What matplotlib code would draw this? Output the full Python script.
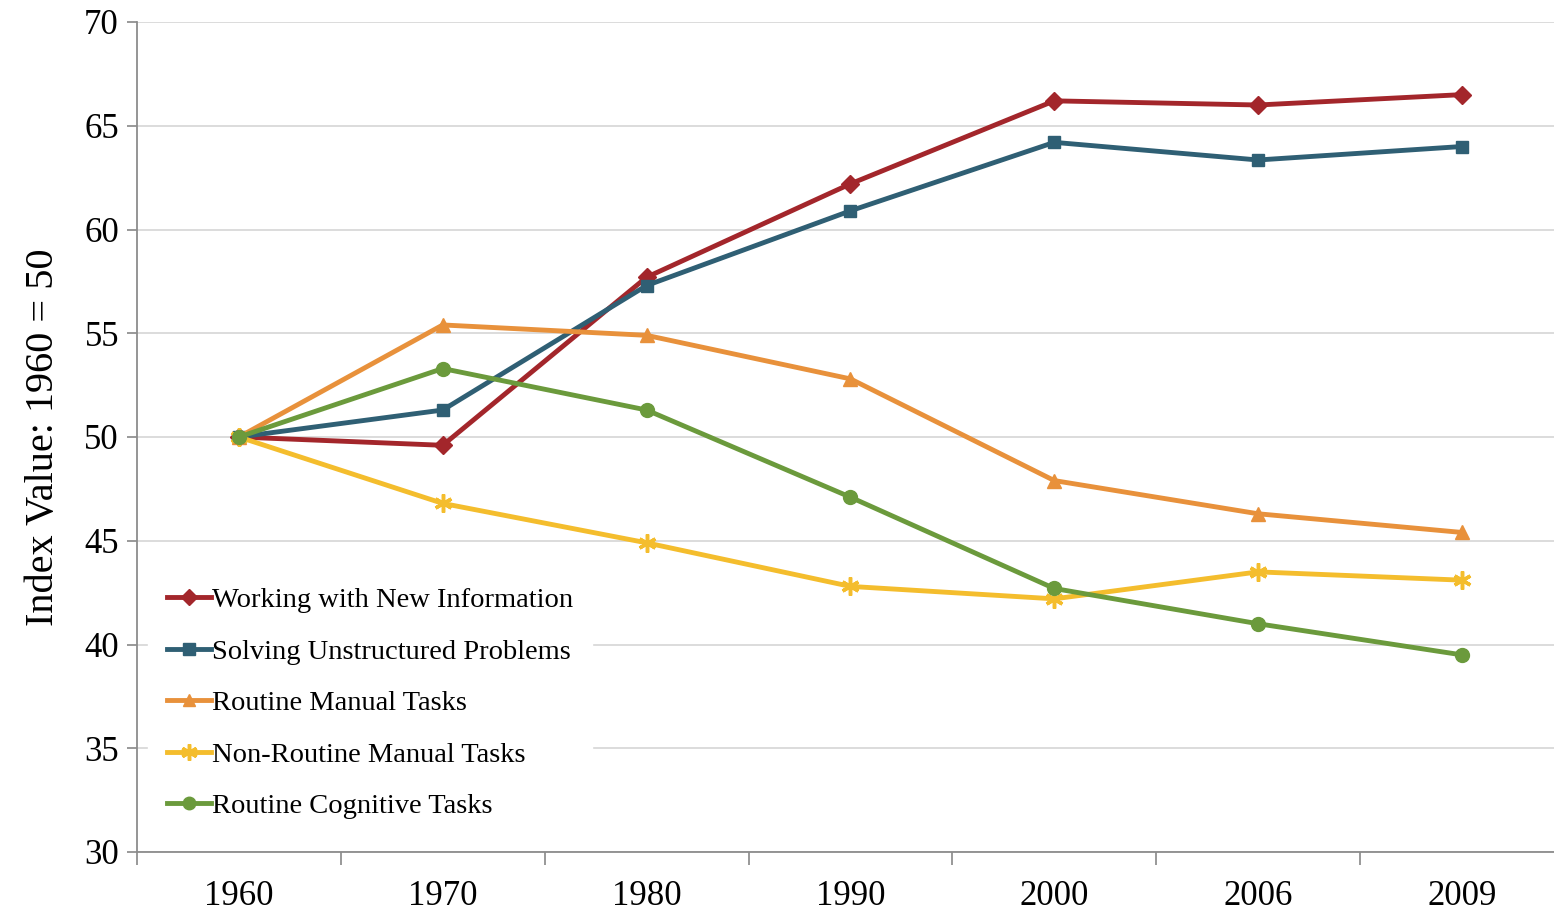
import matplotlib
matplotlib.use('Agg')
import matplotlib.pyplot as plt
from matplotlib.ticker import FixedLocator

plt.rcParams['font.family'] = ['Liberation Serif', 'DejaVu Serif']

years = ['1960', '1970', '1980', '1990', '2000', '2006', '2009']

new_info = [50, 49.6, 57.7, 62.2, 66.2, 66.0, 66.5]
unstructured = [50, 51.3, 57.3, 60.9, 64.2, 63.35, 64.0]
routine_manual = [50, 55.4, 54.9, 52.8, 47.9, 46.3, 45.4]
nonroutine_manual = [50, 46.8, 44.9, 42.8, 42.2, 43.5, 43.1]
routine_cognitive = [50, 53.3, 51.3, 47.1, 42.7, 41.0, 39.5]

series = [
    ('Working with New Information', new_info, '#a3262b', 'D', 9),
    ('Solving Unstructured Problems', unstructured, '#2f5f74', 's', 9),
    ('Routine Manual Tasks', routine_manual, '#e8913b', '^', 10),
    ('Non-Routine Manual Tasks', nonroutine_manual, '#f4bd2d', (6, 2, 0), 13),
    ('Routine Cognitive Tasks', routine_cognitive, '#6b9a3c', 'o', 10),
]

fig = plt.figure(figsize=(15.54, 9.16), dpi=100)
ax = fig.add_axes([137 / 1554, 64 / 916, 1 - 137 / 1554, (852 - 22) / 916])

x = list(range(len(years)))
for name, vals, col, mk, ms in series:
    ax.plot(x, vals, color=col, lw=3.5, marker=mk, markersize=ms,
            markeredgewidth=2.5 if mk == (6, 2, 0) else 1, label=name,
            clip_on=False, zorder=3)

ax.set_ylim(30, 70)
ax.set_yticks(range(30, 71, 5))
ax.set_xlim(-0.5, (1554 - 240) / ((1462 - 240) / 6))
ax.set_xticks(x)
ax.set_xticklabels(years)
ax.xaxis.set_minor_locator(FixedLocator([i + 0.5 for i in range(-1, 6)]))
ax.tick_params(axis='x', which='major', length=0, labelsize=25, pad=20)
ax.tick_params(axis='x', which='minor', length=9, width=1.2, color='#888888')
ax.tick_params(axis='y', length=7, width=1.2, color='#888888', labelsize=25, pad=6)

ax.grid(axis='y', color='#d9d9d9', lw=1.3)
ax.set_axisbelow(True)
for s in ['top', 'right']:
    ax.spines[s].set_visible(False)
for s in ['left', 'bottom']:
    ax.spines[s].set_color('#8c8c8c')
    ax.spines[s].set_linewidth(1.3)

ax.set_ylabel('Index Value: 1960 = 50', fontsize=29, labelpad=16)

leg = ax.legend(loc='lower left', bbox_to_anchor=(-0.002, 0.0), frameon=True,
                fontsize=20.5, handlelength=1.55, handletextpad=0.05,
                labelspacing=0.9, borderpad=0.65, markerscale=0.9)
leg.get_frame().set_facecolor('white')
leg.get_frame().set_edgecolor('white')
leg.get_frame().set_alpha(1)

fig.savefig('out.png', dpi=100)
